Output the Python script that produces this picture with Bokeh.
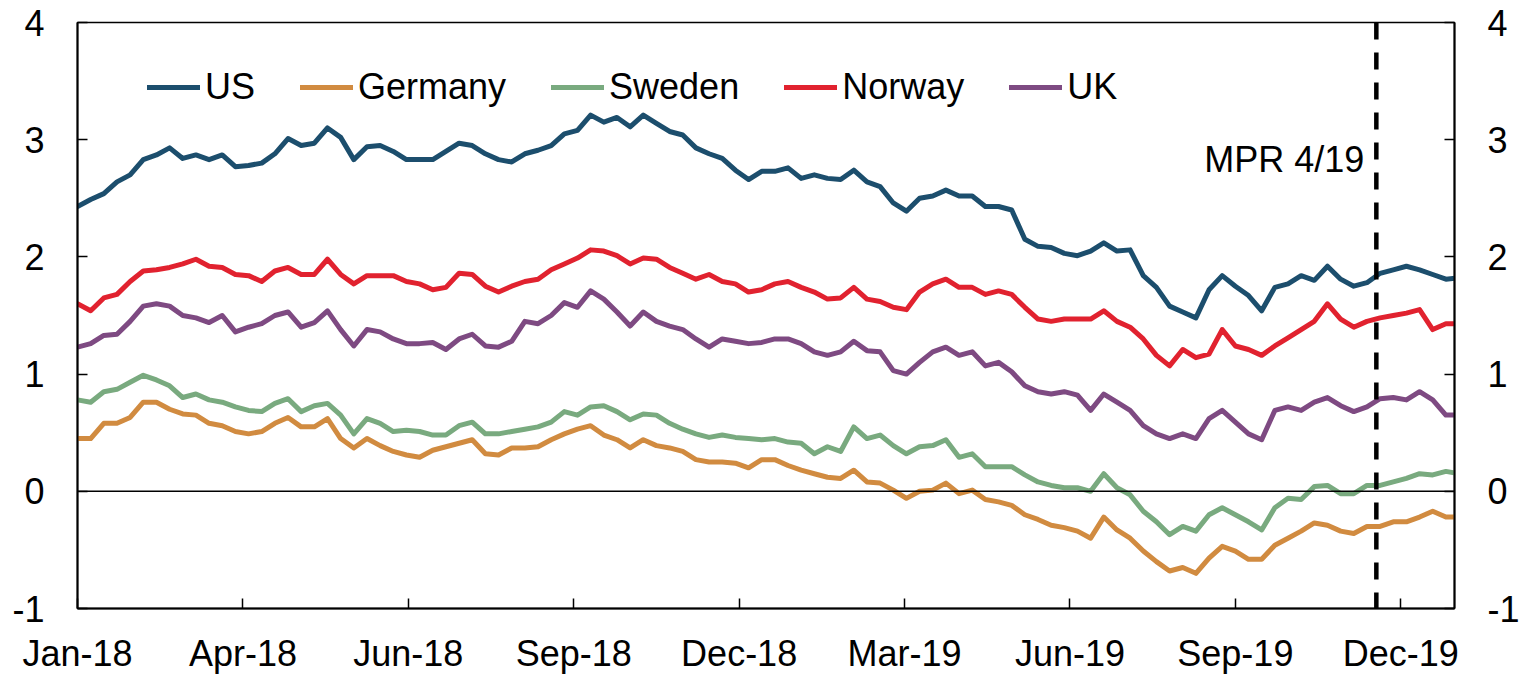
import pandas as pd
from bokeh.plotting import figure
from bokeh.models import (Range1d, FixedTicker, DatetimeTickFormatter, LinearAxis,
                          Span, Label, Legend, LegendItem)
from bokeh.embed import file_html
from bokeh.resources import INLINE

# ---- data (weekly readings, 10-year government bond yields, percent) ----
dates = pd.date_range("2018-01-03", periods=106, freq="7D")

us = [2.43, 2.49, 2.54, 2.64, 2.70, 2.83, 2.87, 2.93, 2.84, 2.87, 2.83, 2.87, 2.77, 2.78, 2.80, 2.88, 3.01, 2.95,
      2.97, 3.10, 3.02, 2.83, 2.94, 2.95, 2.90, 2.83, 2.83, 2.83, 2.90, 2.97, 2.95, 2.88, 2.83, 2.81, 2.88,
      2.91, 2.95, 3.05, 3.08, 3.21, 3.15, 3.19, 3.11, 3.21, 3.14, 3.07, 3.04, 2.93, 2.88, 2.84, 2.74, 2.66,
      2.73, 2.73, 2.76, 2.67, 2.70, 2.67, 2.66, 2.74, 2.64, 2.60, 2.46, 2.39, 2.50, 2.52, 2.57, 2.52, 2.52, 2.43,
      2.43, 2.40, 2.15, 2.09, 2.08, 2.03, 2.01, 2.05, 2.12, 2.05, 2.06, 1.84, 1.74, 1.58, 1.53, 1.48, 1.72, 1.84,
      1.75, 1.67, 1.54, 1.74, 1.77, 1.84, 1.80, 1.92, 1.81, 1.75, 1.78, 1.86, 1.89, 1.92, 1.89, 1.85, 1.81, 1.82]

germany = [0.45, 0.45, 0.58, 0.58, 0.63, 0.76, 0.76, 0.70, 0.66, 0.65, 0.58, 0.56, 0.51, 0.49, 0.51, 0.58, 0.63, 0.55,
           0.55, 0.62, 0.45, 0.37, 0.45, 0.39, 0.34, 0.31, 0.29, 0.35, 0.38, 0.41, 0.44, 0.32, 0.31, 0.37, 0.37,
           0.38, 0.44, 0.49, 0.53, 0.56, 0.48, 0.44, 0.37, 0.44, 0.39, 0.37, 0.34, 0.27, 0.25, 0.25, 0.24, 0.20,
           0.27, 0.27, 0.22, 0.18, 0.15, 0.12, 0.11, 0.18, 0.08, 0.07, 0.01, -0.06, 0.00, 0.01, 0.07, -0.02, 0.01, -0.07,
           -0.09, -0.12, -0.20, -0.24, -0.29, -0.31, -0.34, -0.40, -0.22, -0.33, -0.40, -0.51, -0.60, -0.68, -0.65, -0.70, -0.57, -0.47,
           -0.51, -0.58, -0.58, -0.46, -0.40, -0.34, -0.27, -0.29, -0.34, -0.36, -0.30, -0.30, -0.26, -0.26, -0.22, -0.17, -0.22, -0.22]

sweden = [0.78, 0.76, 0.85, 0.87, 0.93, 0.99, 0.95, 0.90, 0.80, 0.83, 0.78, 0.76, 0.72, 0.69, 0.68, 0.75, 0.79, 0.68,
          0.73, 0.75, 0.65, 0.49, 0.62, 0.58, 0.51, 0.52, 0.51, 0.48, 0.48, 0.56, 0.59, 0.49, 0.49, 0.51, 0.53,
          0.55, 0.59, 0.68, 0.65, 0.72, 0.73, 0.68, 0.61, 0.66, 0.65, 0.58, 0.53, 0.49, 0.46, 0.48, 0.46, 0.45,
          0.44, 0.45, 0.42, 0.41, 0.32, 0.38, 0.34, 0.55, 0.45, 0.48, 0.39, 0.32, 0.38, 0.39, 0.44, 0.29, 0.32, 0.21,
          0.21, 0.21, 0.14, 0.08, 0.05, 0.03, 0.03, 0.00, 0.15, 0.03, -0.03, -0.17, -0.26, -0.37, -0.30, -0.34, -0.20, -0.14,
          -0.20, -0.26, -0.33, -0.14, -0.06, -0.07, 0.04, 0.05, -0.02, -0.02, 0.05, 0.05, 0.08, 0.11, 0.15, 0.14, 0.17, 0.15]

norway = [1.60, 1.54, 1.65, 1.68, 1.79, 1.88, 1.89, 1.91, 1.94, 1.98, 1.92, 1.91, 1.85, 1.84, 1.79, 1.88, 1.91, 1.85,
          1.85, 1.98, 1.85, 1.77, 1.84, 1.84, 1.84, 1.79, 1.77, 1.72, 1.74, 1.86, 1.85, 1.75, 1.70, 1.75, 1.79,
          1.81, 1.89, 1.94, 1.99, 2.06, 2.05, 2.01, 1.94, 1.99, 1.98, 1.91, 1.86, 1.81, 1.85, 1.79, 1.77, 1.70,
          1.72, 1.77, 1.79, 1.74, 1.70, 1.64, 1.65, 1.74, 1.64, 1.62, 1.57, 1.55, 1.70, 1.77, 1.81, 1.74, 1.74, 1.68,
          1.71, 1.68, 1.57, 1.47, 1.45, 1.47, 1.47, 1.47, 1.54, 1.45, 1.40, 1.30, 1.16, 1.07, 1.21, 1.14, 1.17, 1.38,
          1.24, 1.21, 1.16, 1.24, 1.31, 1.38, 1.45, 1.60, 1.47, 1.40, 1.45, 1.48, 1.50, 1.52, 1.55, 1.38, 1.43, 1.43]

uk = [1.23, 1.26, 1.33, 1.34, 1.45, 1.58, 1.60, 1.58, 1.50, 1.48, 1.44, 1.50, 1.36, 1.40, 1.43, 1.50, 1.53, 1.40,
      1.44, 1.54, 1.38, 1.24, 1.38, 1.36, 1.30, 1.26, 1.26, 1.27, 1.21, 1.30, 1.34, 1.24, 1.23, 1.28, 1.45,
      1.43, 1.50, 1.61, 1.57, 1.71, 1.64, 1.53, 1.41, 1.53, 1.45, 1.41, 1.38, 1.30, 1.23, 1.30, 1.28, 1.26,
      1.27, 1.30, 1.30, 1.26, 1.19, 1.16, 1.19, 1.28, 1.20, 1.19, 1.03, 1.00, 1.10, 1.19, 1.23, 1.16, 1.19, 1.07,
      1.10, 1.02, 0.90, 0.85, 0.83, 0.85, 0.82, 0.69, 0.83, 0.76, 0.69, 0.56, 0.49, 0.45, 0.49, 0.45, 0.62, 0.69,
      0.59, 0.49, 0.44, 0.69, 0.72, 0.69, 0.76, 0.80, 0.73, 0.68, 0.72, 0.79, 0.80, 0.78, 0.85, 0.78, 0.65, 0.65]

series_names = ["US", "Germany", "Sweden", "Norway", "UK"]
series_colors = ["#1c4e6d", "#d18b40", "#79aa7f", "#e1222f", "#7e4a82"]

x_tick_dates = ["2018-01-03", "2018-04-01", "2018-06-28", "2018-09-24", "2018-12-21",
                "2019-03-19", "2019-06-15", "2019-09-11", "2019-12-08"]
y_ticks = [-1, 0, 1, 2, 3, 4]
y_tick_labels = {-1: "-1", 0: "0", 1: "1", 2: "2", 3: "3", 4: "4"}
mpr_date = "2019-11-25"
mpr_label = "MPR 4/19"
x_start, x_end = "2018-01-03", "2020-01-05 14:00"

# ---- figure ----
def ms(d):
    return pd.Timestamp(d).value / 1e6

FONT = "Liberation Sans"
p = figure(width=1524, height=676, x_axis_type="datetime",
           x_range=Range1d(ms(x_start), ms(x_end)), y_range=Range1d(-1, 4),
           output_backend="svg", toolbar_location=None,
           min_border_left=77, min_border_right=70, min_border_top=22, min_border_bottom=65)
p.xgrid.visible = False
p.ygrid.visible = False
p.outline_line_color = "black"
p.outline_line_width = 1.5
p.background_fill_color = "white"
p.border_fill_color = "white"

p.add_layout(Span(location=0, dimension="width", line_color="black", line_width=1.5))

all_series = [us, germany, sweden, norway, uk]
items = []
for name, col, vals in zip(series_names, series_colors, all_series):
    r = p.line(x=list(dates), y=vals, line_color=col, line_width=5,
               line_join="round", line_cap="round")
    items.append(LegendItem(label=name, renderers=[r]))

p.add_layout(Span(location=ms(mpr_date), dimension="height", line_color="black",
                  line_width=4.5, line_dash="17 13"))
p.add_layout(Label(x=ms(mpr_date), y=2.83, x_offset=-12, text=mpr_label,
                   text_align="right", text_baseline="middle",
                   text_font=FONT, text_font_size="36px", text_color="black"))

legend = Legend(items=items, orientation="horizontal", location=(70, 500),
                glyph_width=53, glyph_height=30, label_standoff=5, spacing=45,
                padding=0, margin=0, border_line_alpha=0, background_fill_alpha=0,
                label_text_font=FONT, label_text_font_size="36px",
                label_text_color="black")
p.add_layout(legend)

# axes
p.xaxis.ticker = FixedTicker(ticks=[ms(d) for d in x_tick_dates])
fmt = "%b-%y"
p.xaxis.formatter = DatetimeTickFormatter(microseconds=fmt, milliseconds=fmt, seconds=fmt,
                                          minsec=fmt, minutes=fmt, hourmin=fmt, hours=fmt,
                                          days=fmt, months=fmt, years=fmt)
p.yaxis.ticker = FixedTicker(ticks=y_ticks)
p.yaxis.major_label_overrides = y_tick_labels
right = LinearAxis(ticker=FixedTicker(ticks=y_ticks), major_label_overrides=y_tick_labels)
p.add_layout(right, "right")

for ax in [p.xaxis[0], p.yaxis[0], right]:
    ax.axis_line_color = "black"
    ax.axis_line_width = 2
    ax.major_tick_line_color = "black"
    ax.major_tick_line_width = 1.5
    ax.major_tick_in = 10
    ax.major_tick_out = 0
    ax.minor_tick_line_color = None
    ax.major_label_text_font = FONT
    ax.major_label_text_font_size = "36px"
    ax.major_label_text_color = "black"
p.xaxis.major_label_standoff = 24
p.yaxis.major_label_standoff = 33
right.major_label_standoff = 33

open("out.html", "w").write(file_html(p, INLINE))
